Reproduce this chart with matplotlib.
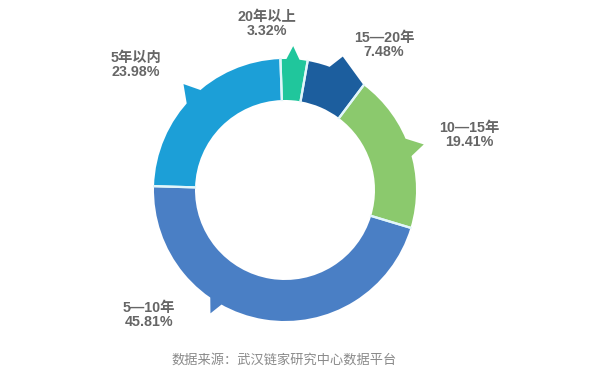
import numpy as np
import matplotlib
matplotlib.use("Agg")
import matplotlib.pyplot as plt
from matplotlib.patches import Polygon

# house age distribution, clockwise from the top
categories = ["20年以上", "15—20年", "10—15年", "5—10年", "5年以内"]
shares = [3.32, 7.48, 19.41, 45.81, 23.98]
colors = ["#20c69c", "#1c5e9e", "#8bc96d", "#4a7fc5", "#1c9fd7"]
source_note = "数据来源：武汉链家研究中心数据平台"

# spike on the outer rim of each segment: (start, tip, end) as fraction of the
# segment sweep, and the tip radius relative to the outer radius
spikes = [
    (0.22, 0.44, 0.70, 1.10),
    (0.37, 0.50, 1.00, 1.11),
    (0.43, 0.50, 0.545, 1.115),
    (0.62, 0.633, 0.655, 1.10),
    (0.46, 0.516, 0.557, 1.12),
]
# label centres in pixels (x, y from top)
label_pos = [(267, 24), (384, 45), (469, 135), (149, 315), (136, 65)]

W, H = 608, 380
CX, CY = 285, 190
R_OUT, R_IN = 131, 90
FONT = ["Liberation Sans", "Noto Sans CJK SC", "DejaVu Sans"]

fig = plt.figure(figsize=(W / 100, H / 100), dpi=100)
ax = fig.add_axes([0, 0, 1, 1])
wedges, _ = ax.pie(
    shares,
    colors=colors,
    startangle=92,
    counterclock=False,
    radius=R_OUT,
    center=(CX, CY),
    wedgeprops=dict(width=R_OUT - R_IN, edgecolor="none", linewidth=0),
)


def polar(angle_deg, r):
    a = np.deg2rad(angle_deg)
    return CX + r * np.cos(a), CY + r * np.sin(a)


for wedge, color, (f1, ft, f2, rt) in zip(wedges, colors, spikes):
    start, sweep = wedge.theta2, wedge.theta2 - wedge.theta1
    a1, at, a2 = (start - f * sweep for f in (f1, ft, f2))
    pts = [
        polar(a1, R_OUT * 0.96),
        polar(a1, R_OUT),
        polar(at, R_OUT * rt),
        polar(a2, R_OUT),
        polar(a2, R_OUT * 0.96),
    ]
    ax.add_patch(Polygon(pts, closed=True, facecolor=color, edgecolor="none"))

# thin light separators between the segments
for wedge in wedges:
    for ang in (wedge.theta1, wedge.theta2):
        x0, y0 = polar(ang, R_IN - 1)
        x1, y1 = polar(ang, R_OUT + 1)
        ax.plot([x0, x1], [y0, y1], color="#e2f6fa", lw=1.6, solid_capstyle="butt")

for cat, val, (px, py) in zip(categories, shares, label_pos):
    ax.text(px, H - py, f"{cat}\n{val:.2f}%", ha="center", va="center",
            fontsize=10.3, color="#666666", family=FONT, fontweight="bold",
            linespacing=1.05)

ax.text(284, H - 360, source_note, ha="center", va="center", fontsize=9.5,
        color="#8a8a8a", family=FONT)

ax.set_xlim(0, W)
ax.set_ylim(0, H)
ax.set_aspect("equal")
ax.axis("off")
fig.savefig("out.png", dpi=100, facecolor="white")
